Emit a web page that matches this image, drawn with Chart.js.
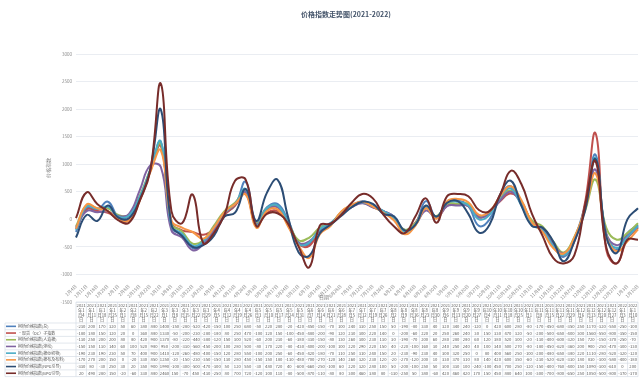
<!DOCTYPE html>
<html>
<head>
<meta charset="utf-8">
<script src="https://cdn.jsdelivr.net/npm/chart.js@4.4.0/dist/chart.umd.min.js"></script>
<style>
  html, body { margin: 0; padding: 0; background: #fff; }
</style>
</head>
<body>
<canvas id="priceChart" width="644" height="379"></canvas>
<script>
// 周度日期（横轴 / 数据表表头）
const dates = [
  '2021年1月4日', '2021年1月11日', '2021年1月18日', '2021年1月25日',
  '2021年2月1日', '2021年2月8日', '2021年2月15日', '2021年2月22日',
  '2021年3月1日', '2021年3月8日', '2021年3月15日', '2021年3月22日', '2021年3月29日',
  '2021年4月5日', '2021年4月12日', '2021年4月19日', '2021年4月26日',
  '2021年5月3日', '2021年5月10日', '2021年5月17日', '2021年5月24日', '2021年5月31日',
  '2021年6月7日', '2021年6月14日', '2021年6月21日', '2021年6月28日',
  '2021年7月5日', '2021年7月12日', '2021年7月19日', '2021年7月26日',
  '2021年8月2日', '2021年8月9日', '2021年8月16日', '2021年8月23日', '2021年8月30日',
  '2021年9月6日', '2021年9月13日', '2021年9月20日', '2021年9月27日',
  '2021年10月4日', '2021年10月11日', '2021年10月18日', '2021年10月25日',
  '2021年11月1日', '2021年11月8日', '2021年11月15日', '2021年11月22日', '2021年11月29日',
  '2021年12月6日', '2021年12月13日', '2021年12月20日', '2021年12月27日',
  '2022年1月3日', '2022年1月10日'
];

const seriesNames = [
  '柯桥价格指数(总)',
  '·现货（DC）子指数',
  '柯桥价格指数(人造棉)',
  '柯桥价格指数(涤纶)',
  '柯桥价格指数(棉纱织物)',
  '柯桥价格指数(棉布及布料)',
  '柯桥价格指数(NPG引导)',
  '柯桥价格指数(BPG引导)'
];

const seriesColors = ['#4F81BD', '#C0504D', '#9BBB59', '#8064A2', '#4BACC6', '#F79646', '#2C4D75', '#772C2A'];

const totalIndex = [-230, 200, 170, 320, 50, 60, 380, 880, 1400, -150, -280, -520, -420, -150, 100, 250, 680, -50, 220, 280, -20, -420, -450, -150, -70, 100, 240, 330, 250, 150, 50, -190, -80, 330, 40, 320, 340, 240, -120, 0, 420, 600, 280, -80, -170, -450, -680, -350, 250, 1170, -320, -550, -250, -100];
const dcIndex = [-180, 180, 150, 120, 20, 0, 360, 880, 1330, -50, -200, -230, -280, -180, 80, 250, 470, -100, 120, 150, -100, -450, -480, -200, -90, 120, 230, 300, 220, 140, 0, -200, -60, 220, 20, 250, 260, 240, 30, 150, 330, 470, 320, -50, -200, -500, -650, -400, 300, 1560, -550, -800, -350, -150];
const rayonIndex = [-130, 250, 200, 200, 80, 80, 420, 900, 1370, -80, -220, -440, -380, -120, 150, 300, 520, -60, 200, 230, -60, -380, -330, -150, -80, 130, 260, 300, 230, 130, 30, -190, -70, 200, 60, 280, 280, 280, 60, 120, 380, 520, 300, -20, -130, -400, -600, -320, 150, 720, -150, -370, -250, -70];
const polyesterIndex = [-150, 150, 130, 140, 60, 100, 520, 980, 950, -200, -330, -560, -450, -200, 100, 280, 500, -80, 170, 220, -80, -430, -400, -200, -100, 100, 220, 290, 220, 150, 40, -220, -100, 160, 30, 240, 250, 240, 40, 100, 340, 500, 270, -80, -180, -450, -620, -360, 200, 900, -250, -470, -300, -130];
const yarnIndex = [-190, 230, 190, 230, 50, 70, 400, 900, 1410, -120, -260, -480, -400, -150, 120, 280, 550, -100, 200, 250, -60, -450, -420, -180, -70, 110, 250, 310, 240, 150, 20, -230, -90, 230, 40, 300, 320, 250, 0, 80, 400, 560, 250, -100, -200, -480, -650, -380, 220, 1110, -280, -520, -320, -120];
const clothIndex = [-170, 270, 200, 150, 0, -20, 330, 850, 1250, -20, -150, -230, -350, -150, 130, 280, 450, -150, 150, 180, -130, -480, -700, -270, -120, 140, 260, 320, 230, 120, -20, -270, -120, 200, 10, 330, 370, 310, 80, 140, 420, 600, 350, -60, -230, -520, -620, -330, 180, 830, -300, -580, -400, -180];
const npgIndex = [-330, 80, -30, 250, 30, 20, 350, 900, 1990, -100, -300, -500, -470, -300, 50, 120, 550, -30, 480, 720, 40, -600, -660, -250, -100, 60, 220, 320, 280, 100, 50, -200, -100, 250, 50, 300, 330, 100, -240, -100, 450, 700, 250, -120, -150, -400, -760, -400, 150, 1090, -300, -610, 0, 200];
const bpgIndex = [20, 490, 280, 150, -20, -60, 330, 880, 2460, 150, -70, 450, -430, -250, 80, 700, 720, -120, 100, 110, -80, -500, -870, -110, -80, 80, 300, 460, 380, 80, -130, -250, 50, 380, -60, 420, 460, 420, 170, 150, 450, 880, 640, 100, -300, -700, -800, -650, 250, 1050, -500, -800, -370, -370];

const seriesValues = [totalIndex, dcIndex, rayonIndex, polyesterIndex, yarnIndex, clothIndex, npgIndex, bpgIndex];

const yTicks = [-1500, -1000, -500, 0, 500, 1000, 1500, 2000, 2500, 3000];

const FONT = '"Noto Sans CJK SC", "Noto Sans", sans-serif';

// 标题、轴标题和底部数据表（Excel 风格）
const dataTablePlugin = {
  id: 'dataTable',
  afterDraw(chart) {
    const ctx = chart.ctx;
    const area = chart.chartArea;
    const n = dates.length;
    const colW = (area.right - area.left) / n;
    const top = area.bottom;
    const headH = 21;
    const rowH = 6.7;
    const legendLeft = 5;
    const bottom = top + headH + rowH * seriesNames.length;

    ctx.save();
    // 标题
    ctx.fillStyle = '#44546A';
    ctx.font = 'bold 7px ' + FONT;
    ctx.textAlign = 'center';
    ctx.textBaseline = 'middle';
    ctx.fillText('价格指数走势图(2021-2022)', 346, 14);

    // 轴标题
    ctx.fillStyle = '#7F7F7F';
    ctx.font = '5px ' + FONT;
    ctx.fillText('日期', 324, 297);
    ctx.save();
    ctx.translate(48, 168);
    ctx.rotate(-Math.PI / 2);
    ctx.fillText('价格指数', 0, 0);
    ctx.restore();

    // 表格线
    ctx.strokeStyle = '#D6DCE5';
    ctx.lineWidth = 0.7;
    ctx.beginPath();
    ctx.moveTo(area.left, top);
    ctx.lineTo(area.right, top);
    for (let r = 0; r <= seriesNames.length; r++) {
      const y = top + headH + r * rowH;
      ctx.moveTo(legendLeft, y);
      ctx.lineTo(area.right, y);
    }
    for (let c = 0; c <= n; c++) {
      const x = area.left + c * colW;
      ctx.moveTo(x, top);
      ctx.lineTo(x, bottom);
    }
    ctx.moveTo(legendLeft, top + headH);
    ctx.lineTo(legendLeft, bottom);
    ctx.stroke();

    // 表头
    ctx.fillStyle = '#595959';
    ctx.font = '4.2px ' + FONT;
    dates.forEach((d, c) => {
      const m = d.match(/^(\d+)年(\d+)月(\d+)日$/);
      const lines = [m[1], '年' + m[2], '月' + m[3], '日'];
      const cx = area.left + (c + 0.5) * colW;
      lines.forEach((t, k) => ctx.fillText(t, cx, top + 3.2 + k * 4.9));
    });

    // 数值与图例
    seriesValues.forEach((vals, r) => {
      const cy = top + headH + (r + 0.5) * rowH;
      vals.forEach((v, c) => {
        ctx.fillText(String(v), area.left + (c + 0.5) * colW, cy);
      });
      ctx.strokeStyle = seriesColors[r];
      ctx.lineWidth = 1.6;
      ctx.beginPath();
      ctx.moveTo(6, cy);
      ctx.lineTo(16, cy);
      ctx.stroke();
    });
    ctx.textAlign = 'left';
    ctx.font = '4px ' + FONT;
    seriesNames.forEach((name, r) => {
      ctx.fillText(name, 18, top + headH + (r + 0.5) * rowH);
    });
    ctx.restore();
  }
};

const ctx = document.getElementById('priceChart').getContext('2d');
const priceChart = new Chart(ctx, {
  type: 'line',
  data: {
    labels: dates,
    datasets: seriesValues.map((vals, i) => ({
      label: seriesNames[i],
      data: vals,
      borderColor: seriesColors[i],
      backgroundColor: seriesColors[i],
      borderWidth: 2,
      pointRadius: 0,
      tension: 0.45,
      fill: false,
      order: seriesValues.length - i
    }))
  },
  options: {
    responsive: false,
    animation: false,
    layout: { padding: { left: 0, right: 6, top: 54, bottom: 77 } },
    plugins: {
      legend: { display: false },
      title: { display: false },
      tooltip: { enabled: false }
    },
    scales: {
      x: {
        position: { y: -1000 },
        offset: false,
        grid: { display: false },
        border: { display: false },
        ticks: {
          autoSkip: false,
          maxRotation: 45,
          minRotation: 45,
          padding: 1,
          color: '#8C8C8C',
          font: { size: 4.5, family: FONT },
          callback: function (value) {
            return dates[value].replace(/^\d+年/, '');
          }
        }
      },
      y: {
        min: -1500,
        max: 3000,
        afterFit: function (scale) { scale.width = 76; },
        afterBuildTicks: function (scale) {
          scale.ticks = yTicks.map(v => ({ value: v }));
        },
        grid: { color: '#E4E8EF', lineWidth: 0.8, drawTicks: false },
        border: { display: false },
        ticks: {
          padding: 4,
          color: '#8C8C8C',
          font: { size: 4.5, family: FONT },
          callback: function (value) { return String(value); }
        }
      }
    }
  },
  plugins: [dataTablePlugin]
});
</script>
</body>
</html>
